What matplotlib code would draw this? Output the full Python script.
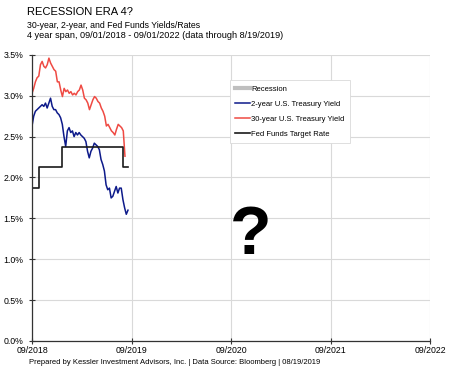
import matplotlib
matplotlib.use("Agg")
import matplotlib.pyplot as plt
import matplotlib.dates as mdates
import pandas as pd

plt.rcParams['font.family'] = ['Liberation Sans', 'DejaVu Sans']

# 30-year U.S. Treasury yield (%)
y30 = [3.03, 3.09, 3.17, 3.22, 3.24, 3.38, 3.42, 3.36, 3.34, 3.38,
       3.46, 3.40, 3.36, 3.32, 3.30, 3.17, 3.17, 3.07, 2.99, 3.09,
       3.05, 3.07, 3.03, 3.05, 3.01, 3.03, 3.01, 3.05, 3.07, 3.13,
       3.07, 2.97, 2.95, 2.91, 2.83, 2.89, 2.95, 2.99, 2.97, 2.93,
       2.91, 2.85, 2.81, 2.75, 2.63, 2.65, 2.61, 2.57, 2.55, 2.52,
       2.59, 2.65, 2.63, 2.61, 2.57, 2.26]
dates30 = pd.date_range("2018-09-01", "2019-08-08", periods=len(y30))

# 2-year U.S. Treasury yield (%)
y2 = [2.63, 2.75, 2.81, 2.83, 2.85, 2.87, 2.89, 2.87, 2.91, 2.85,
      2.91, 2.97, 2.87, 2.83, 2.83, 2.79, 2.77, 2.73, 2.65, 2.50,
      2.38, 2.57, 2.61, 2.55, 2.57, 2.50, 2.55, 2.52, 2.55, 2.52,
      2.50, 2.48, 2.44, 2.32, 2.24, 2.32, 2.36, 2.42, 2.40, 2.38,
      2.34, 2.22, 2.16, 2.08, 1.91, 1.85, 1.87, 1.75, 1.77, 1.83,
      1.89, 1.81, 1.87, 1.87, 1.73, 1.63, 1.55, 1.60]
dates2 = pd.date_range("2018-09-01", "2019-08-19", periods=len(y2))

# Fed funds target rate (midpoint, %)
fed_dates = pd.to_datetime(["2018-09-01", "2018-09-27", "2018-12-20",
                            "2019-08-01", "2019-08-19"])
fed = [1.875, 2.125, 2.375, 2.125, 2.125]

year_ticks = pd.to_datetime(["2018-09-01", "2019-09-01", "2020-09-01",
                             "2021-09-01", "2022-09-01"])

fig = plt.figure(figsize=(4.49, 3.81), dpi=100)
ax = fig.add_axes([0.0713, 0.105, 0.887, 0.751])

ax.plot([], [], color="#bfbfbf", lw=3, label="Recession")
ax.plot(dates2, y2, color="#0d1a8a", lw=1.1, label="2-year U.S. Treasury Yield")
ax.plot(dates30, y30, color="#ef4a43", lw=1.1, label="30-year U.S. Treasury Yield")
ax.plot(fed_dates, fed, color="#1a1a1a", lw=1.2, drawstyle="steps-post",
        label="Fed Funds Target Rate")

ax.set_xlim(year_ticks[0], year_ticks[-1])
ax.set_ylim(0, 3.5)
ax.set_xticks(year_ticks)
ax.xaxis.set_major_formatter(mdates.DateFormatter("%m/%Y"))
ax.set_yticks([i * 0.5 for i in range(8)])
ax.set_yticklabels(["%.1f%%" % (i * 0.5) for i in range(8)])
ax.grid(True, color="#d9d9d9", lw=0.8)
ax.set_axisbelow(True)
for s in ["top", "right"]:
    ax.spines[s].set_visible(False)
for s in ["left", "bottom"]:
    ax.spines[s].set_color("#333333")
    ax.spines[s].set_linewidth(0.9)
ax.tick_params(axis="both", direction="inout", length=5, width=0.8,
               color="#333333")
ax.tick_params(axis="y", labelsize=6.3, pad=4)
ax.tick_params(axis="x", labelsize=6.3, pad=1)

leg = ax.legend(loc="upper left", bbox_to_anchor=(0.487, 0.925), fontsize=5.5,
                handlelength=2.0, handletextpad=0.1, labelspacing=1.0,
                borderpad=0.7, fancybox=False, framealpha=1)
leg.get_frame().set_edgecolor("#d9d9d9")
leg.get_frame().set_linewidth(0.6)

ax.text(year_ticks[0] + pd.Timedelta(days=803), 1.06, "?", fontsize=49,
        family=["Liberation Sans Narrow", "Liberation Sans"],
        fontweight="bold", ha="center", va="baseline")

fig.text(0.06, 0.982, "RECESSION ERA 4?", fontsize=8, va="top")
fig.text(0.06, 0.945, "30-year, 2-year, and Fed Funds Yields/Rates",
         fontsize=6.3, va="top")
fig.text(0.06, 0.919,
         "4 year span, 09/01/2018 - 09/01/2022 (data through 8/19/2019)",
         fontsize=6.6, va="top")
fig.text(0.065, 0.058,
         "Prepared by Kessler Investment Advisors, Inc. | Data Source: Bloomberg | 08/19/2019",
         fontsize=5.5, va="top")

fig.savefig("out.png", dpi=100)
